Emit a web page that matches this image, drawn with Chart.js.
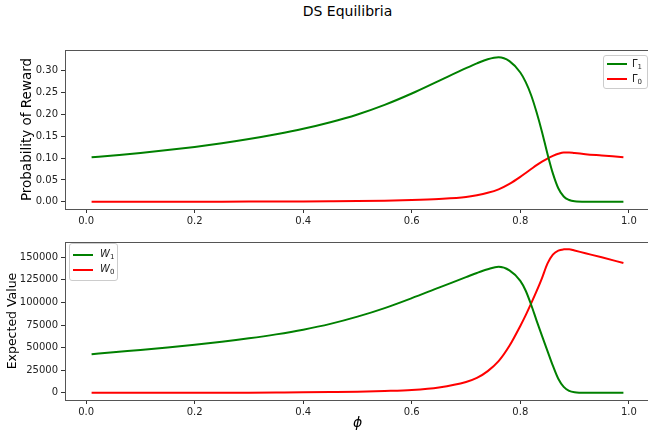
<!DOCTYPE html>
<html>
<head>
<meta charset="utf-8">
<script src="https://cdn.jsdelivr.net/npm/chart.js@4"></script>
<style>
  html, body { margin: 0; padding: 0; background: #fff; }
  #fig { position: relative; width: 648px; height: 433px; overflow: hidden; font-family: "DejaVu Sans", sans-serif; }
  #titulo { position: absolute; left: 0; top: 3px; width: 695px; text-align: center; font-size: 14px; color: #000; }
  canvas { position: absolute; left: 0; }
  #graficoGamma { top: 0; }
  #graficoW { top: 233px; }
  .legenda { position: absolute; border: 1px solid #ccc; border-radius: 3px; background: rgba(255,255,255,0.8); font-size: 10px; color: #222; }
  .linha { position: absolute; left: 3px; width: 20px; height: 2px; }
  .texto { position: absolute; line-height: 12px; white-space: nowrap; }
  .texto sub { font-size: 7px; vertical-align: -2px; line-height: 0; }
</style>
</head>
<body>
<div id="fig">
  <div id="titulo">DS Equilibria</div>
  <canvas id="graficoGamma" width="700" height="233"></canvas>
  <canvas id="graficoW" width="700" height="200"></canvas>

  <div class="legenda" style="left:603px; top:55px; width:43px; height:32px;">
    <div class="linha" style="top:7px; background:#008000;"></div>
    <div class="texto" style="left:28px; top:2px;">Γ<sub>1</sub></div>
    <div class="linha" style="top:22px; background:#ff0000;"></div>
    <div class="texto" style="left:28px; top:17px;">Γ<sub>0</sub></div>
  </div>

  <div class="legenda" style="left:69px; top:243px; width:47px; height:36px;">
    <div class="linha" style="top:10px; background:#008000;"></div>
    <div class="texto" style="left:30px; top:4px;"><i>W</i><sub>1</sub></div>
    <div class="linha" style="top:25px; background:#ff0000;"></div>
    <div class="texto" style="left:30px; top:19px;"><i>W</i><sub>0</sub></div>
  </div>
</div>

<script>
// valores
const phi = [0.01, 0.05, 0.1, 0.15, 0.2, 0.25, 0.3, 0.35, 0.4, 0.45, 0.5, 0.55, 0.6, 0.65, 0.7, 0.72, 0.74, 0.76, 0.78, 0.8, 0.81, 0.82, 0.83, 0.84, 0.85, 0.86, 0.87, 0.88, 0.89, 0.9, 0.92, 0.95, 0.99]
const gamma1 = [0.1017, 0.1061, 0.1118, 0.1183, 0.1255, 0.1338, 0.1435, 0.1545, 0.167, 0.182, 0.200, 0.222, 0.248, 0.277, 0.306, 0.317, 0.3265, 0.331, 0.322, 0.296, 0.274, 0.244, 0.205, 0.160, 0.110, 0.065, 0.031, 0.012, 0.004, 0.001, 0, 0, 0]
const gamma0 = [0, 0, 0, 0.0001, 0.0001, 0.0002, 0.0003, 0.0005, 0.0007, 0.001, 0.0015, 0.0025, 0.004, 0.0065, 0.011, 0.015, 0.0205, 0.0285, 0.041, 0.057, 0.066, 0.075, 0.084, 0.092, 0.099, 0.105, 0.110, 0.113, 0.113, 0.1115, 0.109, 0.106, 0.102]
const w1 = [42800, 45000, 47500, 50200, 53200, 56500, 60300, 64700, 69900, 76300, 84300, 93800, 104800, 116500, 128000, 132700, 136800, 139500, 135500, 124000, 113000, 97500, 80000, 63000, 46500, 30000, 15500, 6500, 2200, 600, 0, 0, 0]
const w0 = [0, 0, 0, 20, 50, 100, 200, 330, 500, 800, 1200, 2000, 3200, 6000, 12000, 16500, 24000, 35000, 52000, 74000, 86000, 99000, 112500, 127000, 143000, 153000, 157500, 158800, 159000, 157500, 154500, 150000, 143700]

const phiTicks = [0, 0.2, 0.4, 0.6, 0.8, 1.0]
const probTicks = [0, 0.05, 0.10, 0.15, 0.20, 0.25, 0.30]
const valorTicks = [0, 25000, 50000, 75000, 100000, 125000, 150000]

const verde = '#008000'
const vermelho = '#ff0000'
const familia = '"DejaVu Sans", sans-serif'

// caixa em volta da area do grafico
const moldura = {
  id: 'moldura',
  afterDraw(chart) {
    const { ctx, chartArea: a } = chart
    ctx.save()
    ctx.strokeStyle = '#555'
    ctx.lineWidth = 1
    ctx.strokeRect(Math.round(a.left) + 0.5, Math.round(a.top) + 0.5, Math.round(a.right - a.left), Math.round(a.bottom - a.top))
    ctx.restore()
  }
}

function pares(serie) {
  return phi.map((p, i) => ({ x: p, y: serie[i] }))
}

function serieLinha(serie, cor) {
  return { data: pares(serie), borderColor: cor, borderWidth: 2, pointRadius: 0, cubicInterpolationMode: 'monotone' }
}

function montarGrafico(idCanvas, s1, s0, cfg) {
  const fonteTick = { family: familia, size: 10 }
  const grade = { drawOnChartArea: false, tickLength: 4, color: '#333', tickColor: '#333' }
  return new Chart(document.getElementById(idCanvas), {
    type: 'line',
    data: { datasets: [serieLinha(s1, verde), serieLinha(s0, vermelho)] },
    options: {
      responsive: false,
      animation: false,
      layout: { padding: { left: cfg.padEsq, top: cfg.padTopo, right: 50, bottom: 0 } },
      plugins: { legend: { display: false }, tooltip: { enabled: false } },
      scales: {
        x: {
          type: 'linear',
          min: -0.039,
          max: 1.039,
          afterBuildTicks: s => { s.ticks = phiTicks.map(v => ({ value: v })) },
          afterFit: s => { s.height = cfg.altX },
          ticks: { callback: v => v.toFixed(1), font: fonteTick, color: '#222', padding: 2, maxRotation: 0, autoSkip: false },
          grid: grade,
          border: { display: false },
          title: {
            display: !!cfg.tituloX,
            text: cfg.tituloX || '',
            font: { family: familia, size: 14, style: 'italic' },
            color: '#000',
            padding: { top: 0, bottom: 1 }
          }
        },
        y: {
          min: cfg.yMin,
          max: cfg.yMax,
          afterBuildTicks: s => { s.ticks = cfg.yTicks.map(v => ({ value: v })) },
          afterFit: s => { s.width = 65 - cfg.padEsq },
          ticks: { callback: cfg.formato, font: fonteTick, color: '#222', padding: 3, autoSkip: false },
          grid: grade,
          border: { display: false },
          title: {
            display: true,
            text: cfg.tituloY,
            font: { family: familia, size: cfg.tamTituloY },
            color: '#000',
            padding: { top: 4, bottom: 4 }
          }
        }
      }
    },
    plugins: [moldura]
  })
}

montarGrafico('graficoGamma', gamma1, gamma0, {
  padEsq: 15, padTopo: 50, altX: 24,
  yMin: -0.0166, yMax: 0.3476, yTicks: probTicks,
  formato: v => v.toFixed(2),
  tituloY: 'Probability of Reward', tamTituloY: 13.5
})

montarGrafico('graficoW', w1, w0, {
  padEsq: 1, padTopo: 8, altX: 33,
  yMin: -7950, yMax: 166950, yTicks: valorTicks,
  formato: v => String(v),
  tituloY: 'Expected Value', tamTituloY: 12.5,
  tituloX: 'ϕ'
})
</script>
</body>
</html>
